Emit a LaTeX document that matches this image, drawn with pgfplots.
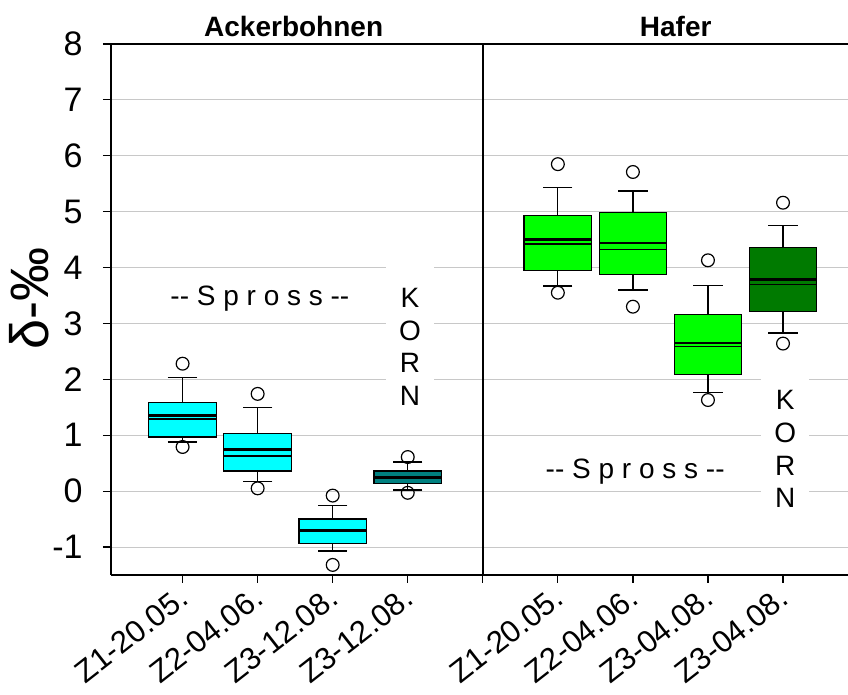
\documentclass[border=0pt]{standalone}
\usepackage{pgfplots}
\pgfplotsset{compat=1.18}
\usepgfplotslibrary{statistics}
\usetikzlibrary{calc}
\usepackage{fontspec}
\setmainfont{Liberation Sans}

\definecolor{boxcyan}{RGB}{0,255,255}
\definecolor{boxteal}{RGB}{0,128,128}
\definecolor{boxgreen}{RGB}{0,255,0}
\definecolor{boxdkgreen}{RGB}{0,122,0}
\definecolor{gridgray}{RGB}{200,200,200}

% 1 px of the reference = 0.5pt
\pgfplotsset{
  bp/.style={
    draw=black, line width=0.6pt, mark=o, mark size=3.2pt,
    mark options={draw=black, fill=white, line width=0.6pt},
    boxplot/draw direction=y,
    boxplot/box extend=0.9,
    boxplot/whisker extend=0.39,
    boxplot/every median/.style={black, line width=0.6pt},
    boxplot/every whisker/.style={black, line width=0.6pt},
  },
  meanline/.style={black, line width=1.4pt, forget plot},
}
\newcommand{\dd}{-\kern0pt-}

\begin{document}
\begin{tikzpicture}
\begin{axis}[
    scale only axis,
    width=368.5pt, height=265.5pt,
    xmin=0.046, xmax=9.866,
    ymin=-1.5, ymax=8,
    axis x line*=box, axis y line*=left,
    axis line style={black, line width=0.8pt},
    xtick pos=bottom, ytick pos=left,
    tick align=outside,
    major tick length=4pt,
    tick style={black, line width=0.6pt},
    xtick={1,2,3,4,5,6,7,8,9},
    xticklabels={Z1-20.05.,Z2-04.06.,Z3-12.08.,Z3-12.08.,{},Z1-20.05.,Z2-04.06.,Z3-04.08.,Z3-04.08.},
    ytick={-1,0,1,2,3,4,5,6,7,8},
    yticklabels={-1,0,1,2,3,4,5,6,7,8},
    xticklabel style={font=\fontsize{15.5}{17}\selectfont, anchor=north east, inner sep=0pt, xshift=-3pt, yshift=-1pt, rotate=38},
    yticklabel style={font=\fontsize{17}{19}\selectfont, inner sep=0pt, xshift=-10pt},
    ymajorgrids,
    grid style={gridgray, line width=0.5pt},
    ylabel={δ-‰},
    every axis y label/.style={at={(rel axis cs:0,0.52)}, xshift=-41pt, rotate=90, anchor=center, font=\fontsize{27}{29}\selectfont},
    clip=false,
]
% Ackerbohnen
\addplot[bp, fill=boxcyan, boxplot prepared={draw position=1,
  lower whisker=0.88, lower quartile=0.97, median=1.29,
  upper quartile=1.59, upper whisker=2.04}]
  table[row sep=\\, y index=0] {2.28\\ 0.79\\};
\addplot[meanline] coordinates {(0.55,1.35) (1.45,1.35)};

\addplot[bp, fill=boxcyan, boxplot prepared={draw position=2,
  lower whisker=0.17, lower quartile=0.36, median=0.63,
  upper quartile=1.03, upper whisker=1.50}]
  table[row sep=\\, y index=0] {1.74\\ 0.05\\};
\addplot[meanline] coordinates {(1.55,0.75) (2.45,0.75)};

\addplot[bp, fill=boxcyan, boxplot prepared={draw position=3,
  lower whisker=-1.07, lower quartile=-0.94, median=-0.70,
  upper quartile=-0.50, upper whisker=-0.25}]
  table[row sep=\\, y index=0] {-0.08\\ -1.32\\};
\addplot[meanline] coordinates {(2.55,-0.70) (3.45,-0.70)};

\addplot[bp, fill=boxteal, boxplot prepared={draw position=4,
  lower whisker=0.02, lower quartile=0.13, median=0.25,
  upper quartile=0.36, upper whisker=0.52}]
  table[row sep=\\, y index=0] {0.61\\ -0.03\\};
\addplot[meanline] coordinates {(3.55,0.25) (4.45,0.25)};

% Hafer
\addplot[bp, fill=boxgreen, boxplot prepared={draw position=6,
  lower whisker=3.67, lower quartile=3.95, median=4.42,
  upper quartile=4.93, upper whisker=5.43}]
  table[row sep=\\, y index=0] {5.85\\ 3.55\\};
\addplot[meanline] coordinates {(5.55,4.50) (6.45,4.50)};

\addplot[bp, fill=boxgreen, boxplot prepared={draw position=7,
  lower whisker=3.60, lower quartile=3.87, median=4.32,
  upper quartile=4.99, upper whisker=5.37}]
  table[row sep=\\, y index=0] {5.71\\ 3.30\\};
\addplot[meanline] coordinates {(6.55,4.44) (7.45,4.44)};

\addplot[bp, fill=boxgreen, boxplot prepared={draw position=8,
  lower whisker=1.77, lower quartile=2.09, median=2.59,
  upper quartile=3.16, upper whisker=3.68}]
  table[row sep=\\, y index=0] {4.13\\ 1.63\\};
\addplot[meanline] coordinates {(7.55,2.65) (8.45,2.65)};

\addplot[bp, fill=boxdkgreen, boxplot prepared={draw position=9,
  lower whisker=2.83, lower quartile=3.22, median=3.69,
  upper quartile=4.36, upper whisker=4.75}]
  table[row sep=\\, y index=0] {5.16\\ 2.64\\};
\addplot[meanline] coordinates {(8.55,3.78) (9.45,3.78)};

% divider between the two crops
\draw[black, line width=0.8pt] (axis cs:5,-1.5) -- (axis cs:5,8);

% annotations
\node[font=\fontsize{14}{16}\selectfont] at (axis cs:2.03,3.45) {\dd{} S p r o s s \dd};
\node[font=\fontsize{14}{16}\selectfont] at (axis cs:7.03,0.35) {\dd{} S p r o s s \dd};
\node[font=\fontsize{14}{16.35}\selectfont, fill=white, inner xsep=6.5pt, inner ysep=12pt, align=center]
  at (axis cs:4.03,2.58) {K\\O\\R\\N};
\node[font=\fontsize{14}{16.35}\selectfont, fill=white, inner xsep=6.5pt, inner ysep=12pt, align=center]
  at (axis cs:9.03,0.75) {K\\O\\R\\N};

% titles
\node[font=\fontsize{14}{16}\bfseries, anchor=base] at (axis cs:2.48,8) [yshift=3.6pt] {Ackerbohnen};
\node[font=\fontsize{14}{16}\bfseries, anchor=base] at (axis cs:7.57,8) [yshift=3.6pt] {Hafer};

\coordinate (sw) at (rel axis cs:0,0);
\coordinate (ne) at (rel axis cs:1,1);
\end{axis}
\pgfresetboundingbox
\path ($(sw)+(-55.5pt,-60pt)$) rectangle ($(ne)+(0pt,22pt)$);
\end{tikzpicture}
\end{document}
